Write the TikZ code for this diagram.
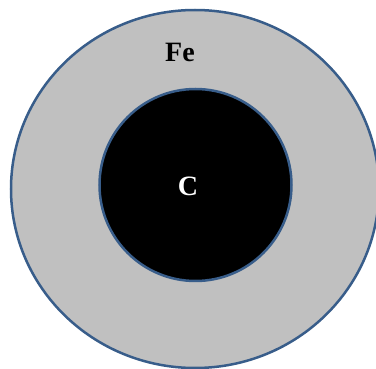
\documentclass[tikz,border=0pt]{standalone}
\usepackage{fontspec}
\setmainfont{Liberation Serif}
\definecolor{rim}{HTML}{385D8A}
\definecolor{fegray}{HTML}{C0C0C0}
\tikzset{
  shell/.style={draw=rim, line width=2.5pt},
  lbl/.style={font=\bfseries\fontsize{28}{30}\selectfont, inner sep=0pt}
}
\begin{document}
\begin{tikzpicture}[x=1pt,y=1pt]
\useasboundingbox (0,0) rectangle (376,-369);
\begin{scope}
\clip (0,0) rectangle (376,-369);
\draw[shell, fill=fegray] (195,-189) ellipse [x radius=184, y radius=179];
\end{scope}
\draw[shell, fill=black] (195.5,-185) circle [radius=96];
\node[lbl, text=black] (fe) at (180,-52) {Fe};
\node[lbl, text=white] (c) at (188,-186) {C};
\end{tikzpicture}
\end{document}
